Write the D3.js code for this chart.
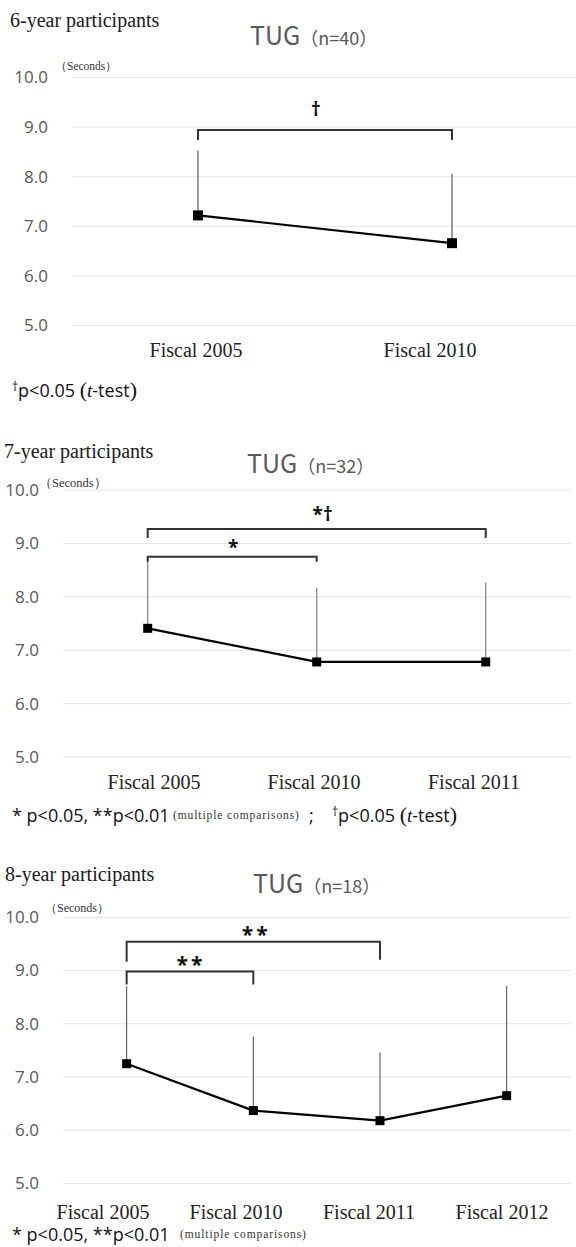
<!DOCTYPE html>
<html><head><meta charset="utf-8">
<script src="https://cdn.jsdelivr.net/npm/d3@7"></script>
<style>body{margin:0;background:#fff}</style>
</head><body><svg id="c" width="576" height="1247" xmlns="http://www.w3.org/2000/svg"></svg>
<script>
// ---------- data ----------
const yTicks = [5, 6, 7, 8, 9, 10];
const groups = ["6-year participants", "7-year participants", "8-year participants"];
const nCounts = [40, 32, 18];

const cats1 = ["Fiscal 2005", "Fiscal 2010"];
const mean1 = [7.22, 6.66];
const sd1 = [1.31, 1.40];
const sig1 = [{from: 0, to: 1, level: 8.94, label: "†"}];

const cats2 = ["Fiscal 2005", "Fiscal 2010", "Fiscal 2011"];
const mean2 = [7.41, 6.78, 6.78];
const sd2 = [1.29, 1.39, 1.49];
const sig2 = [{from: 0, to: 2, level: 9.27, label: "*†"}, {from: 0, to: 1, level: 8.75, label: "*"}];

const cats3 = ["Fiscal 2005", "Fiscal 2010", "Fiscal 2011", "Fiscal 2012"];
const mean3 = [7.25, 6.37, 6.18, 6.65];
const sd3 = [1.46, 1.39, 1.28, 2.06];
const sig3 = [{from: 0, to: 2, level: 9.54, label: "**"}, {from: 0, to: 1, level: 8.98, label: "**"}];

// ---------- layout ----------
const L1 = {y10: 77.5, y5: 325.5, xr: [71, 579], lr: [79, 547], grid: [72, 576], tickX: 48,
  groupX: 10, groupY: 27, tugX: 250, tugY: 45, secX: 55, secY: 70, secSize: 11.5, catY: 357, mk: 10,
  brTicks: [[10, 10]], labGap: [14], labDx: [-9], labSize: [19], ebColor: "#858585", ebW: 1.6};
const L2 = {y10: 490, y5: 757, xr: [63.2, 570.2], lr: [74, 554], grid: [63, 571], tickX: 39,
  groupX: 4, groupY: 458, tugX: 247, tugY: 473, secX: 39, secY: 487, secSize: 12.5, catY: 789, mk: 9,
  brTicks: [[9, 9], [5, 5]], labGap: [8, 3], labDx: [6, 1], labSize: [19, 19], ebColor: "#8a8a8a", ebW: 1.3};
const L3 = {y10: 917.3, y5: 1183.5, xr: [63.3, 570], lr: [36.5, 568.5], grid: [63, 571], tickX: 39,
  groupX: 5, groupY: 881, tugX: 253, tugY: 893, secX: 45, secY: 912, secSize: 12, catY: 1219, mk: 9,
  brTicks: [[20, 18], [13, 13]], labGap: [0, 0], labDx: [3, 1], labSize: [21, 21], ebColor: "#5a5a5a", ebW: 1.1};

const svg = d3.select("#c");
const SANS = "'Open Sans', 'Liberation Sans', sans-serif";
const SERIF = "'Liberation Serif', 'DejaVu Serif', serif";
const CJK = "'Noto Sans CJK JP', 'Open Sans', sans-serif";

function panel(cats, means, sds, sigs, gi, L) {
  const g = svg.append("g");
  const y = d3.scaleLinear().domain([5, 10]).range([L.y5, L.y10]);
  const x = d3.scaleBand().domain(cats).range(L.xr);
  const xl = d3.scaleBand().domain(cats).range(L.lr);
  const cx = i => x(cats[i]) + x.bandwidth() / 2;

  // gridlines
  g.append("g").selectAll("line").data(yTicks).join("line")
    .attr("x1", L.grid[0]).attr("x2", L.grid[1])
    .attr("y1", d => y(d)).attr("y2", d => y(d))
    .attr("stroke", "#e4e4e4").attr("stroke-width", 1);

  // y axis labels
  const ya = g.append("g").attr("transform", `translate(${L.tickX},0)`)
    .call(d3.axisLeft(y).tickValues(yTicks).tickFormat(d3.format(".1f")).tickSize(0).tickPadding(0));
  ya.select(".domain").remove();
  ya.selectAll("text").attr("font-family", SANS).attr("font-size", 17).attr("fill", "#595959");

  // x axis labels
  const xa = g.append("g").attr("transform", `translate(0,${L.catY})`)
    .call(d3.axisBottom(xl).tickSize(0).tickPadding(0));
  xa.select(".domain").remove();
  xa.selectAll("text").attr("y", 0).attr("dy", 0)
    .attr("font-family", SERIF).attr("font-size", 20).attr("fill", "#222");

  // titles
  g.append("text").attr("x", L.groupX).attr("y", L.groupY)
    .attr("font-family", SERIF).attr("font-size", 20).attr("fill", "#1a1a1a").text(groups[gi]);
  const t = g.append("text").attr("x", L.tugX).attr("y", L.tugY).attr("fill", "#595959");
  t.append("tspan").attr("font-family", CJK).attr("font-size", 25).text("TUG");
  t.append("tspan").attr("font-family", CJK).attr("font-size", 18).text(`（n=${nCounts[gi]}）`);
  g.append("text").attr("x", L.secX).attr("y", L.secY)
    .attr("font-family", SERIF).attr("font-size", L.secSize).attr("fill", "#333").text("（Seconds）");

  // error bars (upper SD)
  g.append("g").selectAll("line").data(means).join("line")
    .attr("x1", (d, i) => cx(i)).attr("x2", (d, i) => cx(i))
    .attr("y1", d => y(d)).attr("y2", (d, i) => y(d + sds[i]))
    .attr("stroke", L.ebColor).attr("stroke-width", L.ebW);

  // line
  g.append("path").datum(means)
    .attr("d", d3.line().x((d, i) => cx(i)).y(d => y(d)))
    .attr("fill", "none").attr("stroke", "#000").attr("stroke-width", 2.2);

  // markers
  g.append("g").selectAll("rect").data(means).join("rect")
    .attr("x", (d, i) => cx(i) - L.mk / 2).attr("y", d => y(d) - L.mk / 2)
    .attr("width", L.mk).attr("height", L.mk).attr("fill", "#000");

  // significance brackets
  sigs.forEach((s, k) => {
    const x1 = cx(s.from), x2 = cx(s.to), yy = y(s.level);
    g.append("path")
      .attr("d", `M${x1},${yy + L.brTicks[k][0]}V${yy}H${x2}V${yy + L.brTicks[k][1]}`)
      .attr("fill", "none").attr("stroke", "#333").attr("stroke-width", 2);
    g.append("text").attr("x", (x1 + x2) / 2 + L.labDx[k]).attr("y", yy - L.labGap[k])
      .attr("text-anchor", "middle").attr("font-family", SANS).attr("font-weight", "bold")
      .attr("font-size", L.labSize[k]).attr("fill", "#111")
      .attr("letter-spacing", s.label === "**" ? 3 : 0).text(s.label);
  });
  return g;
}

panel(cats1, mean1, sd1, sig1, 0, L1);
panel(cats2, mean2, sd2, sig2, 1, L2);
panel(cats3, mean3, sd3, sig3, 2, L3);

// ---------- footnotes ----------
function ttest(sel, x, base) {
  const t = sel.append("text").attr("x", x).attr("y", base).attr("fill", "#111");
  t.append("tspan").attr("font-family", SANS).attr("font-size", 12).attr("dy", -6).text("†");
  t.append("tspan").attr("font-family", SANS).attr("font-size", 18).attr("dy", 6).text("p<0.05 ");
  t.append("tspan").attr("font-family", SERIF).attr("font-size", 22).text("(");
  t.append("tspan").attr("font-family", SERIF).attr("font-style", "italic").attr("font-size", 19).text("t");
  t.append("tspan").attr("font-family", SANS).attr("font-size", 18).text("-test");
  t.append("tspan").attr("font-family", SERIF).attr("font-size", 22).text(")");
}
function multi(sel, x, base, xm) {
  sel.append("text").attr("x", x).attr("y", base).attr("fill", "#111")
    .attr("font-family", SANS).attr("font-size", 18).text("* p<0.05, **p<0.01");
  sel.append("text").attr("x", xm).attr("y", base - 3).attr("fill", "#333")
    .attr("font-family", SERIF).attr("font-size", 11.5).attr("letter-spacing", 0.9)
    .text("(multiple comparisons)");
}
ttest(svg, 12, 397);
multi(svg, 12, 822, 173);
svg.append("text").attr("x", 309).attr("y", 822).attr("fill", "#111")
  .attr("font-family", SANS).attr("font-size", 18).text(";");
ttest(svg, 332, 822);
multi(svg, 12, 1241, 180);
</script>
</body></html>
